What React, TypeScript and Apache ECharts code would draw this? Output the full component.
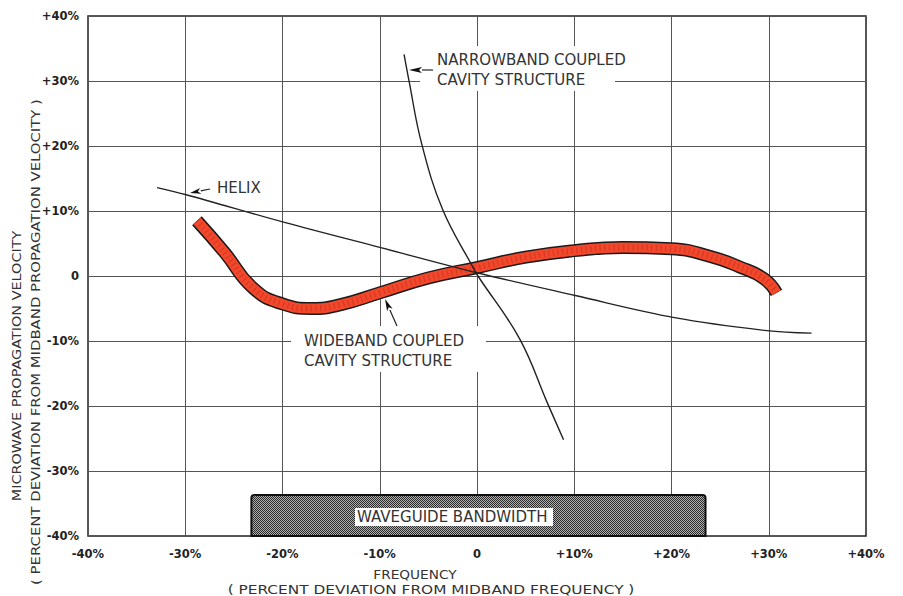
import React, { useEffect, useRef } from "react";
import * as echarts from "echarts";

// ---- data (percent deviation from midband) ----
const xTicks = [-40, -30, -20, -10, 0, 10, 20, 30, 40];
const yTicks = [-40, -30, -20, -10, 0, 10, 20, 30, 40];

const wideX = [-28.8, -26, -23, -20, -17, -14, -10, -5, 0, 5, 10, 15, 20, 24, 27, 29.5, 30.8];
const wideY = [8.5, 3.7, -1.9, -4.3, -5.0, -4.4, -2.6, -0.3, 1.3, 2.9, 3.9, 4.4, 4.2, 3.0, 1.4, -0.4, -2.6];

const helixX = [-32.9, -29.9, -19.7, -10, 0, 10.1, 20.3, 29.8, 34.4];
const helixY = [13.6, 12.5, 8.2, 4.4, 0.5, -3.0, -6.4, -8.4, -8.8];

const narrowX = [-7.5, -7.0, -5.7, -3.5, -0.4, 0.1, 4.4, 7.2, 8.9];
const narrowY = [34.1, 30.1, 20.4, 10.1, 1.3, 0, -9.7, -19.4, -25.2];

const waveguideBand = [-23.2, 23.5];
const waveguideLevels = [-40, -33.7];

const zip = (xs: number[], ys: number[]) => xs.map((x, i) => [x, ys[i]]);

const fmt = (v: number) => (v > 0 ? "+" + v + "%" : v < 0 ? v + "%" : "0");

const FONT = '"DejaVu Sans", sans-serif';
const INK = "#333";

function arrow(tx: number, ty: number, hx: number, hy: number, len = 13, hw = 3) {
  const dx = hx - tx, dy = hy - ty;
  const d = Math.hypot(dx, dy);
  const ux = dx / d, uy = dy / d;
  const bx = hx - ux * len, by = hy - uy * len;
  const px = -uy * hw, py = ux * hw;
  return [
    { type: "line", z: 100, shape: { x1: tx, y1: ty, x2: bx, y2: by }, style: { stroke: "#222", lineWidth: 1.2 } },
    {
      type: "polygon", z: 100,
      shape: { points: [[hx, hy], [bx + px, by + py], [bx + ux * 3, by + uy * 3], [bx - px, by - py]] },
      style: { fill: "#111" },
    },
  ];
}

function text(x: number, y: number, t: string, size = 15) {
  return {
    type: "text", z: 101, x, y,
    style: {
      text: t, fill: INK, font: `${size}px ${FONT}`,
      textAlign: "left", textVerticalAlign: "middle", align: "left", verticalAlign: "middle",
      lineHeight: 20,
    },
  };
}

function title(x: number, y: number, t: string, scaleX: number, rotation = 0) {
  return {
    type: "text", z: 101, x, y, rotation, scaleX,
    style: {
      text: t, fill: INK, font: `12px ${FONT}`,
      textAlign: "center", textVerticalAlign: "middle", align: "center", verticalAlign: "middle",
    },
  };
}

function makePattern() {
  const c = document.createElement("canvas");
  c.width = 2; c.height = 2;
  const ctx = c.getContext("2d")!;
  ctx.fillStyle = "#b0b0b0"; ctx.fillRect(0, 0, 2, 2);
  ctx.fillStyle = "#2a2a2a"; ctx.fillRect(0, 0, 1, 1); ctx.fillRect(1, 1, 1, 1);
  return { image: c.toDataURL(), imageWidth: 2, imageHeight: 2, repeat: "repeat" };
}

export default function App() {
  const ref = useRef<HTMLDivElement>(null);
  useEffect(() => {
    const chart = echarts.init(ref.current!, null, { renderer: "svg" });
    const pattern = makePattern();
    const wide = zip(wideX, wideY);
    const sm = 0.5;
    const option: any = {
      animation: false,
      backgroundColor: "#fff",
      grid: { left: 88, right: 37, top: 16, bottom: 60, show: true, borderColor: "#222", borderWidth: 1.5, backgroundColor: "transparent" },
      xAxis: {
        type: "value", min: xTicks[0], max: xTicks[xTicks.length - 1], interval: 10,
        axisLine: { show: false }, axisTick: { show: false },
        splitLine: { show: true, lineStyle: { color: "#555", width: 1 } },
        axisLabel: { formatter: fmt, margin: 12, color: "#222", fontFamily: FONT, fontWeight: "bold", fontSize: 11.5 },
      },
      yAxis: {
        type: "value", min: yTicks[0], max: yTicks[yTicks.length - 1], interval: 10,
        axisLine: { show: false }, axisTick: { show: false },
        splitLine: { show: true, lineStyle: { color: "#555", width: 1 } },
        axisLabel: { formatter: fmt, margin: 9, color: "#222", fontFamily: FONT, fontWeight: "bold", fontSize: 11.5 },
      },
      series: [
        {
          type: "custom", z: 5, clip: false,
          data: [[waveguideBand[0], waveguideBand[1], waveguideLevels[0], waveguideLevels[1]]],
          encode: { x: [0, 1], y: [2, 3] },
          renderItem: (params: any, api: any) => {
            const p1 = api.coord([api.value(0), api.value(3)]);
            const p2 = api.coord([api.value(1), api.value(2)]);
            return {
              type: "rect",
              shape: { x: p1[0], y: p1[1], width: p2[0] - p1[0], height: p2[1] - p1[1], r: [3, 3, 0, 0] },
              style: { fill: pattern, stroke: "#111", lineWidth: 2 },
            };
          },
        },
        {
          type: "line", z: 6, data: wide, smooth: sm, symbol: "none",
          lineStyle: { color: "#1a1a1a", width: 13, cap: "butt", join: "round" },
        },
        {
          type: "line", z: 7, data: wide, smooth: sm, symbol: "none",
          lineStyle: { color: "#f2472b", width: 10, cap: "butt", join: "round" },
        },
        {
          type: "line", z: 8, data: wide, smooth: sm, symbol: "none",
          lineStyle: { color: "#a8281a", width: 6, type: [1.2, 3.5], opacity: 0.4, cap: "butt" },
        },
        {
          type: "line", z: 9, data: zip(helixX, helixY), smooth: 0.35, symbol: "none",
          lineStyle: { color: "#222", width: 1.3 },
        },
        {
          type: "line", z: 9, data: zip(narrowX, narrowY), smooth: 0.4, symbol: "none",
          lineStyle: { color: "#222", width: 1.4 },
        },
      ],
      graphic: [
        // white masks behind labels (break grid lines like the original)
        { type: "rect", z: 99, shape: { x: 420, y: 46, width: 195, height: 45 }, style: { fill: "#fff" } },
        { type: "rect", z: 99, shape: { x: 291, y: 326, width: 195, height: 46 }, style: { fill: "#fff" } },
        { type: "rect", z: 99, shape: { x: 355, y: 508, width: 198, height: 18 }, style: { fill: "#fff" } },
        text(437, 70, "NARROWBAND COUPLED\nCAVITY STRUCTURE"),
        text(304, 350.5, "WIDEBAND COUPLED\nCAVITY STRUCTURE"),
        text(217, 188, "HELIX"),
        text(357, 517, "WAVEGUIDE BANDWIDTH"),
        ...arrow(433, 70, 409, 70),
        ...arrow(210, 189, 190, 193, 11),
        ...arrow(397, 326, 385, 299, 12),
        // axis titles
        title(415, 575, "FREQUENCY", 1.14),
        title(431, 590, "( PERCENT DEVIATION FROM MIDBAND FREQUENCY )", 1.28),
        title(17, 366, "MICROWAVE PROPAGATION VELOCITY", 1.2, Math.PI / 2),
        title(36, 342, "( PERCENT DEVIATION FROM MIDBAND PROPAGATION VELOCITY )", 1.24, Math.PI / 2),
      ],
    };
    chart.setOption(option);
    return () => chart.dispose();
  }, []);
  return <div ref={ref} style={{ width: 903, height: 596, position: "absolute", left: 0, top: 0 }} />;
}
